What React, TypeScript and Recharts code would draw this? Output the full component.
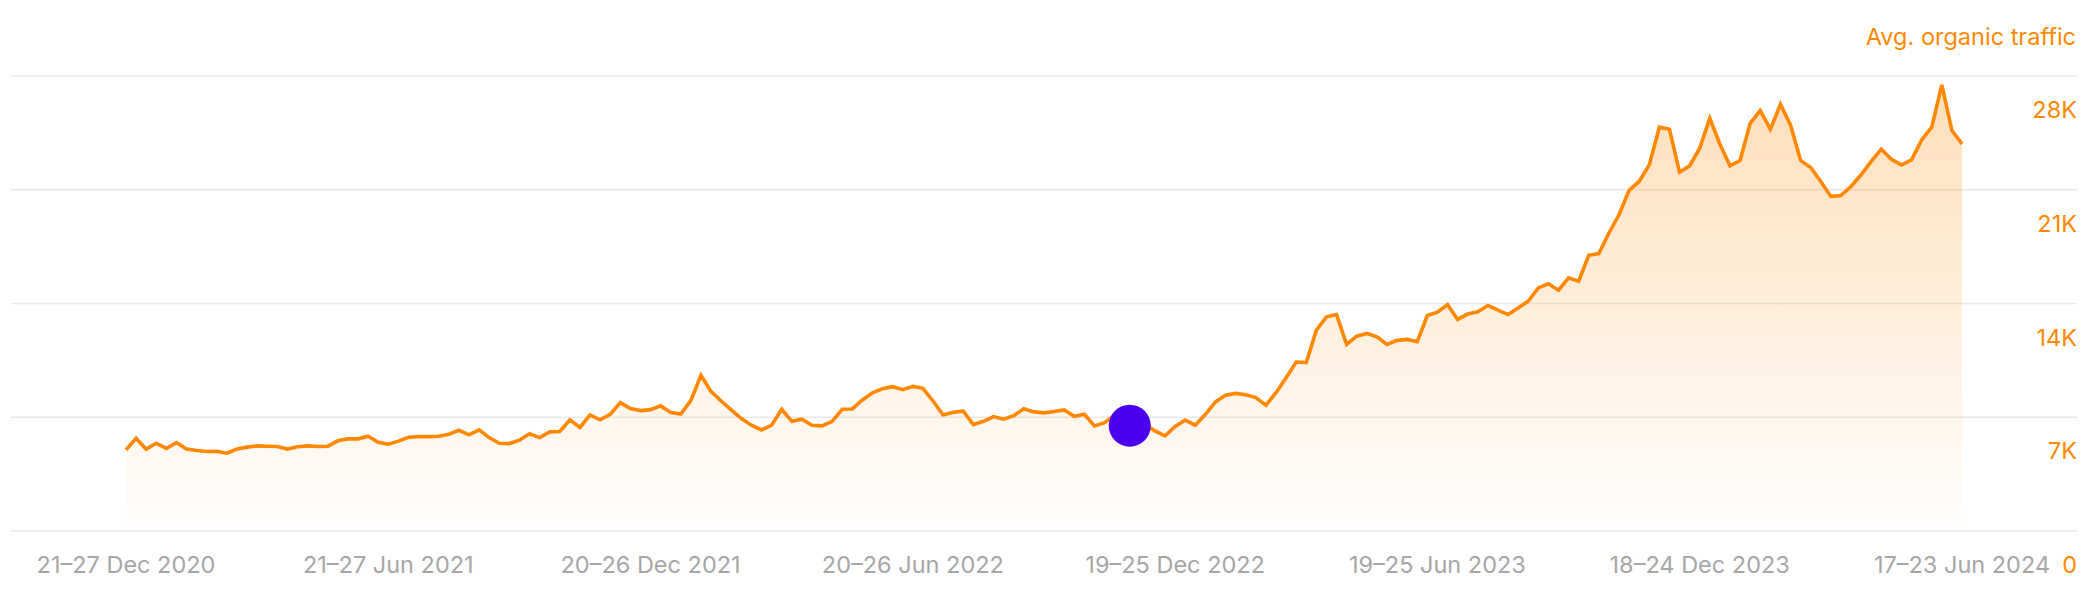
import React from "react";
import {
  ComposedChart,
  Area,
  XAxis,
  YAxis,
  CartesianGrid,
  ReferenceDot,
} from "recharts";

// Weekly average organic traffic, 21–27 Dec 2020 … 17–23 Jun 2024 (183 weeks)
const traffic: number[] = [
  4990, 5710, 5040, 5400, 5080, 5440, 5040, 4950, 4890, 4910,
  4790, 5040, 5160, 5240, 5220, 5200, 5040, 5180, 5240, 5200,
  5220, 5550, 5670, 5670, 5830, 5460, 5340, 5530, 5770, 5810,
  5810, 5830, 5960, 6200, 5920, 6220, 5750, 5400, 5380, 5590,
  5980, 5750, 6100, 6120, 6840, 6370, 7140, 6840, 7180, 7900,
  7530, 7410, 7470, 7700, 7290, 7200, 8040, 9580, 8580, 8000,
  7450, 6920, 6510, 6220, 6510, 7490, 6750, 6880, 6510, 6470,
  6750, 7490, 7510, 8060, 8510, 8760, 8880, 8700, 8900, 8780,
  8000, 7140, 7310, 7370, 6550, 6750, 7040, 6880, 7100, 7520,
  7330, 7270, 7350, 7450, 7060, 7180, 6470, 6670, 7120, 6980,
  6770, 6570, 6160, 5850, 6430, 6820, 6510, 7180, 7940, 8350,
  8470, 8390, 8210, 7740, 8510, 9430, 10400, 10360, 12360, 13180,
  13320, 11480, 11990, 12160, 11950, 11480, 11730, 11790, 11650, 13260,
  13470, 13940, 13020, 13350, 13490, 13880, 13590, 13320, 13730, 14140,
  14960, 15210, 14820, 15580, 15370, 16970, 17070, 18340, 19460, 20960,
  21510, 22530, 24850, 24720, 22080, 22470, 23560, 25400, 23800, 22470,
  22800, 25090, 25870, 24720, 26260, 24990, 22800, 22370, 21510, 20590,
  20650, 21200, 21920, 22740, 23500, 22880, 22530, 22840, 24070, 24850,
  27450, 24640, 23820,
];

// x tick positions (week index) and their labels
const xTickWeeks: number[] = [0, 26, 52, 78, 104, 130, 156, 182];
const xTickLabels: string[] = [
  "21–27 Dec 2020",
  "21–27 Jun 2021",
  "20–26 Dec 2021",
  "20–26 Jun 2022",
  "19–25 Dec 2022",
  "19–25 Jun 2023",
  "18–24 Dec 2023",
  "17–23 Jun 2024",
];

const yTicks: number[] = [0, 7000, 14000, 21000, 28000];

// annotation marker (week index, traffic)
const markerWeek = 99.5;
const markerValue = 6480;

const data = traffic.map((v, i) => ({ week: i, traffic: v }));

const ORANGE = "#ff8800";
const FONT = "Inter, 'Noto Sans', sans-serif";
const FS = 23.5;

const fmtY = (v: number) => (v === 0 ? "0" : `${v / 1000}K`);

const YTick = (props: any) => {
  const { x, y, payload } = props;
  return (
    <text
      x={x}
      y={y + 34}
      dy="0.35em"
      textAnchor="end"
      fill={ORANGE}
      fontSize={FS}
      fontFamily={FONT}
    >
      {fmtY(payload.value)}
    </text>
  );
};

const XTick = (props: any) => {
  const { x, y, payload } = props;
  const idx = xTickWeeks.indexOf(payload.value);
  return (
    <text
      x={x}
      y={y + 34}
      dy="0.35em"
      textAnchor="middle"
      fill="#a6a6a6"
      fontSize={FS}
      fontFamily={FONT}
    >
      {idx >= 0 ? xTickLabels[idx] : ""}
    </text>
  );
};

export default function App() {
  return (
    <div style={{ position: "relative", width: 2084, height: 584 }}>
      <div
        style={{
          position: "absolute",
          right: 16,
          top: 15,
          color: ORANGE,
          fontFamily: FONT,
          fontSize: FS,
          lineHeight: "28px",
          whiteSpace: "nowrap",
        }}
      >
        Avg. organic traffic
      </div>
      <ComposedChart
        width={2084}
        height={584}
        data={data}
        margin={{ top: 68, right: 5, left: 3, bottom: 11 }}
      >
        <defs>
          <linearGradient id="trafficFill" x1="0" y1="0" x2="0" y2="1">
            <stop offset="0%" stopColor={ORANGE} stopOpacity={0.27} />
            <stop offset="100%" stopColor={ORANGE} stopOpacity={0.01} />
          </linearGradient>
        </defs>
        <CartesianGrid vertical={false} stroke="#e8e8e8" strokeWidth={1.5} />
        <XAxis
          dataKey="week"
          type="number"
          domain={[0, 182]}
          ticks={xTickWeeks}
          padding={{ left: 115, right: 115 }}
          axisLine={false}
          tickLine={false}
          tickSize={0}
          tickMargin={0}
          height={50}
          tick={<XTick />}
          interval={0}
        />
        <YAxis
          orientation="right"
          domain={[0, 28000]}
          ticks={yTicks}
          width={10}
          axisLine={false}
          tickLine={false}
          tickSize={0}
          tickMargin={0}
          tick={<YTick />}
          interval={0}
        />
        <Area
          type="linear"
          dataKey="traffic"
          stroke={ORANGE}
          strokeWidth={3.6}
          fill="url(#trafficFill)"
          fillOpacity={1}
          dot={false}
          activeDot={false}
          isAnimationActive={false}
        />
        <ReferenceDot
          x={markerWeek}
          y={markerValue}
          r={21}
          fill="#4b00ee"
          stroke="none"
        />
      </ComposedChart>
    </div>
  );
}
